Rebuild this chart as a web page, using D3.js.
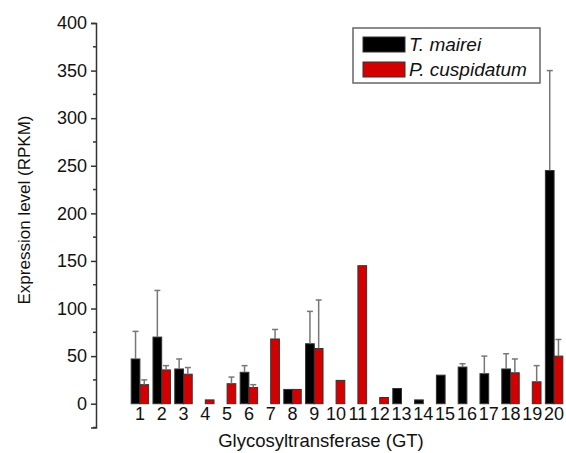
<!DOCTYPE html>
<html>
<head>
<meta charset="utf-8">
<script src="https://cdn.jsdelivr.net/npm/d3@7"></script>
<style>
  body { margin: 0; background: #fff; }
  text { font-family: Arial, "Liberation Sans", sans-serif; }
</style>
</head>
<body>
<div id="chart"></div>
<script>
const categories = ["1","2","3","4","5","6","7","8","9","10","11","12","13","14","15","16","17","18","19","20"];
const seriesNames = ["T. mairei", "P. cuspidatum"];
// mean values (RPKM), null = not expressed
const tMairei = [47, 70, 36.5, null, null, 33, null, 15, 63, null, null, null, 16, 4, 30, 38.5, 31.5, 36.5, null, 245];
const pCuspidatum = [20, 35.5, 31, 4, 21, 17, 68, 15, 58, 24.5, 145, 6.5, null, null, null, null, null, 32.5, 23, 50];
// upper error (SD)
const tMaireiErr = [29, 49, 10.5, 0, 0, 7, 0, 0, 34, 0, 0, 0, 0, 0, 0, 3.5, 18.5, 16, 0, 105];
const pCuspidatumErr = [5, 4.5, 7, 0, 7, 3, 10, 0, 51, 0, 0, 0, 0, 0, 0, 0, 0, 14.5, 17, 17.5];
const yTicks = [0, 50, 100, 150, 200, 250, 300, 350, 400];

const width = 566, height = 453;
const colors = ["#000000", "#d40000"];

const svg = d3.select("#chart")
  .append("svg")
  .attr("width", width)
  .attr("height", height);

const y = d3.scaleLinear()
  .domain([-25, 400])
  .range([427.5, 23]);

const x0 = d3.scaleBand()
  .domain(categories)
  .range([129, 565])
  .paddingInner(0.2)
  .paddingOuter(0.1);

const x1 = d3.scaleBand()
  .domain([0, 1])
  .range([0, x0.bandwidth()]);

const rows = categories.map((c, i) => ({
  cat: c,
  bars: [
    { s: 0, v: tMairei[i], e: tMaireiErr[i] },
    { s: 1, v: pCuspidatum[i], e: pCuspidatumErr[i] }
  ].filter(b => b.v !== null)
}));

// y axis
const axisX = 96;
const yAxis = svg.append("g")
  .attr("transform", `translate(${axisX},0)`)
  .call(d3.axisLeft(y).tickValues(yTicks).tickSize(5).tickPadding(4));
yAxis.select(".domain").attr("stroke", "#333").attr("stroke-width", 1.5);
yAxis.selectAll(".tick line").attr("stroke", "#333").attr("stroke-width", 1.5);
yAxis.selectAll(".tick text").attr("font-size", 18).attr("fill", "#111");

// minor ticks
const minor = d3.range(-25, 400, 50);
yAxis.selectAll(".minor")
  .data(minor)
  .enter().append("line")
  .attr("x1", -3).attr("x2", 0)
  .attr("y1", d => y(d)).attr("y2", d => y(d))
  .attr("stroke", "#333").attr("stroke-width", 1.5);

// bars
const groups = svg.append("g")
  .selectAll("g")
  .data(rows)
  .enter().append("g")
  .attr("transform", d => `translate(${x0(d.cat)},0)`);

groups.selectAll("rect")
  .data(d => d.bars)
  .enter().append("rect")
  .attr("x", d => x1(d.s))
  .attr("y", d => y(d.v))
  .attr("width", x1.bandwidth())
  .attr("height", d => y(0) - y(d.v))
  .attr("fill", d => colors[d.s])
  .attr("stroke", "#333")
  .attr("stroke-width", 1);

// error bars (upper only)
const errs = groups.selectAll(".err")
  .data(d => d.bars.filter(b => b.e > 0))
  .enter().append("g")
  .attr("class", "err");
errs.append("line")
  .attr("x1", d => x1(d.s) + x1.bandwidth() / 2)
  .attr("x2", d => x1(d.s) + x1.bandwidth() / 2)
  .attr("y1", d => y(d.v))
  .attr("y2", d => y(d.v + d.e))
  .attr("stroke", "#777").attr("stroke-width", 1.5);
errs.append("line")
  .attr("x1", d => x1(d.s) + x1.bandwidth() / 2 - 3)
  .attr("x2", d => x1(d.s) + x1.bandwidth() / 2 + 3)
  .attr("y1", d => y(d.v + d.e))
  .attr("y2", d => y(d.v + d.e))
  .attr("stroke", "#777").attr("stroke-width", 1.5);

// category labels
svg.append("g")
  .selectAll("text")
  .data(categories)
  .enter().append("text")
  .attr("x", d => x0(d) + x0.bandwidth() / 2)
  .attr("y", 420)
  .attr("text-anchor", "middle")
  .attr("font-size", 18)
  .attr("fill", "#111")
  .text(d => d);

// axis titles
svg.append("text")
  .attr("transform", `translate(30,210) rotate(-90)`)
  .attr("text-anchor", "middle")
  .attr("font-size", 17)
  .attr("fill", "#111")
  .text("Expression level (RPKM)");

svg.append("text")
  .attr("x", 321)
  .attr("y", 447)
  .attr("text-anchor", "middle")
  .attr("font-size", 18.5)
  .attr("fill", "#111")
  .text("Glycosyltransferase (GT)");

// legend
const legend = svg.append("g").attr("transform", "translate(353,28)");
legend.append("rect")
  .attr("width", 187).attr("height", 55)
  .attr("fill", "#fff").attr("stroke", "#666").attr("stroke-width", 1.5);
const items = legend.selectAll(".item")
  .data(seriesNames)
  .enter().append("g")
  .attr("transform", (d, i) => `translate(10,${9 + i * 25})`);
items.append("rect")
  .attr("width", 42).attr("height", 15)
  .attr("fill", (d, i) => colors[i])
  .attr("stroke", "#333");
items.append("text")
  .attr("x", 46).attr("y", 14)
  .attr("font-size", 19)
  .attr("font-style", "italic")
  .attr("fill", "#111")
  .text(d => d);
</script>
</body>
</html>
